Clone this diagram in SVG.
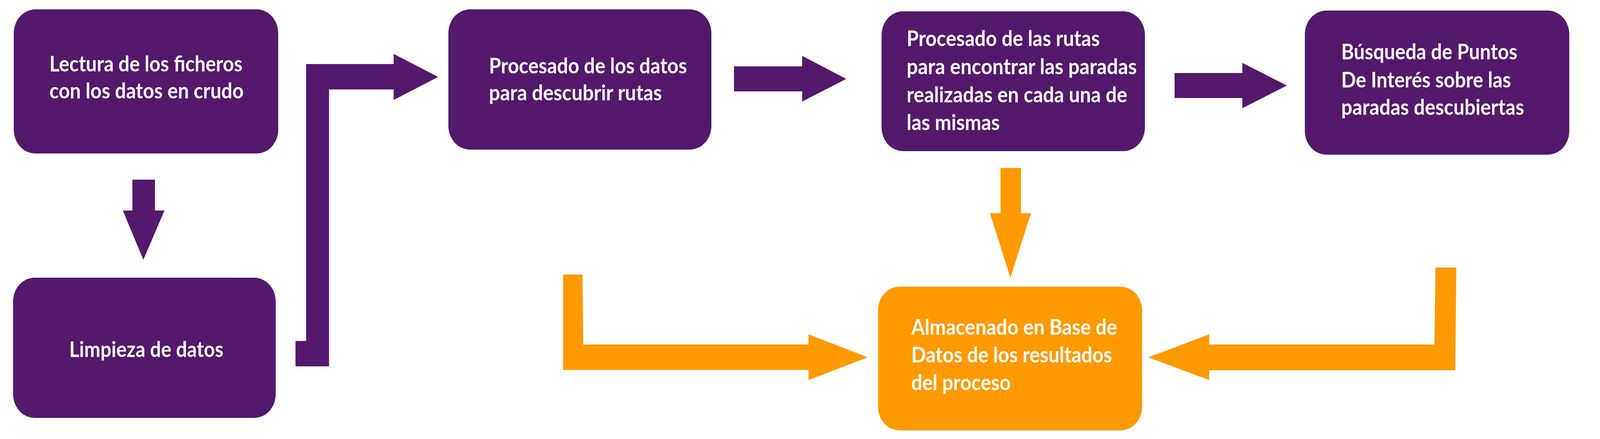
<svg xmlns="http://www.w3.org/2000/svg" width="4532" height="1124" viewBox="0 0 4532 1124" preserveAspectRatio="none">
<style>
svg{width:100vw;height:100vh;display:block}
.p{fill:#54186C}
.o{fill:#FF9900}
.t{font-family:Lato,"Open Sans","Liberation Sans",sans-serif;font-weight:700;font-size:56px;fill:#FFFFFF}
</style>
<rect width="4532" height="1124" fill="#FFFFFF"/>
<g id="connectors">
<polygon class="p" points="375,460 439,460 439,539 466,539 406,665 348,539 375,539"/>
<polygon class="p" points="837,873 867,873 867,164 1115,164 1115,138 1241,197 1115,256 1115,229 932,229 932,938 837,938"/>
<polygon class="p" points="2079,170 2272,170 2272,143 2397,202 2272,260 2272,234 2079,234"/>
<polygon class="p" points="3327,187 3519,187 3519,161 3645,219 3519,277 3519,251 3327,251"/>
<polygon class="o" points="2834,430 2892,430 2892,546 2920,546 2862,711 2804,546 2834,546"/>
<polygon class="o" points="1595,703 1650,703 1652,882 2290,882 2290,856 2458,915 2290,973 2290,947 1595,947"/>
<polygon class="o" points="4066,685 4125,685 4122,948 3425,948 3425,973 3252,915 3425,856 3425,882 4063,882"/>
</g>
<g id="lectura">
<rect class="p" x="39" y="24" width="749" height="369" rx="61"/>
<text class="t" x="140" y="183" textLength="547" lengthAdjust="spacingAndGlyphs">Lectura de los ficheros</text>
<text class="t" x="140" y="252" textLength="550" lengthAdjust="spacingAndGlyphs">con los datos en crudo</text>
</g>
<g id="limpieza">
<rect class="p" x="37" y="711" width="744" height="359" rx="61"/>
<text class="t" x="196" y="914" textLength="437" lengthAdjust="spacingAndGlyphs">Limpieza de datos</text>
</g>
<g id="procesado-datos">
<rect class="p" x="1270" y="24" width="745" height="359" rx="61"/>
<text class="t" x="1385" y="188" textLength="561" lengthAdjust="spacingAndGlyphs">Procesado de los datos</text>
<text class="t" x="1385" y="257" textLength="490" lengthAdjust="spacingAndGlyphs">para descubrir rutas</text>
</g>
<g id="procesado-rutas">
<rect class="p" x="2497" y="29" width="746" height="358" rx="61"/>
<text class="t" x="2568" y="118" textLength="547" lengthAdjust="spacingAndGlyphs">Procesado de las rutas</text>
<text class="t" x="2568" y="190" textLength="652" lengthAdjust="spacingAndGlyphs">para encontrar las paradas</text>
<text class="t" x="2568" y="262" textLength="625" lengthAdjust="spacingAndGlyphs">realizadas en cada una de</text>
<text class="t" x="2568" y="333" textLength="264" lengthAdjust="spacingAndGlyphs">las mismas</text>
</g>
<g id="busqueda">
<rect class="p" x="3696" y="27" width="749" height="369" rx="61"/>
<text class="t" x="3799" y="152" textLength="499" lengthAdjust="spacingAndGlyphs">Búsqueda de Puntos</text>
<text class="t" x="3799" y="224" textLength="481" lengthAdjust="spacingAndGlyphs">De Interés sobre las</text>
<text class="t" x="3799" y="294" textLength="518" lengthAdjust="spacingAndGlyphs">paradas descubiertas</text>
</g>
<g id="almacenado">
<rect class="o" x="2487" y="734" width="748" height="368" rx="61"/>
<text class="t" x="2581" y="857" textLength="583" lengthAdjust="spacingAndGlyphs">Almacenado en Base de</text>
<text class="t" x="2581" y="928" textLength="569" lengthAdjust="spacingAndGlyphs">Datos de los resultados</text>
<text class="t" x="2581" y="999" textLength="282" lengthAdjust="spacingAndGlyphs">del proceso</text>
</g>
</svg>
